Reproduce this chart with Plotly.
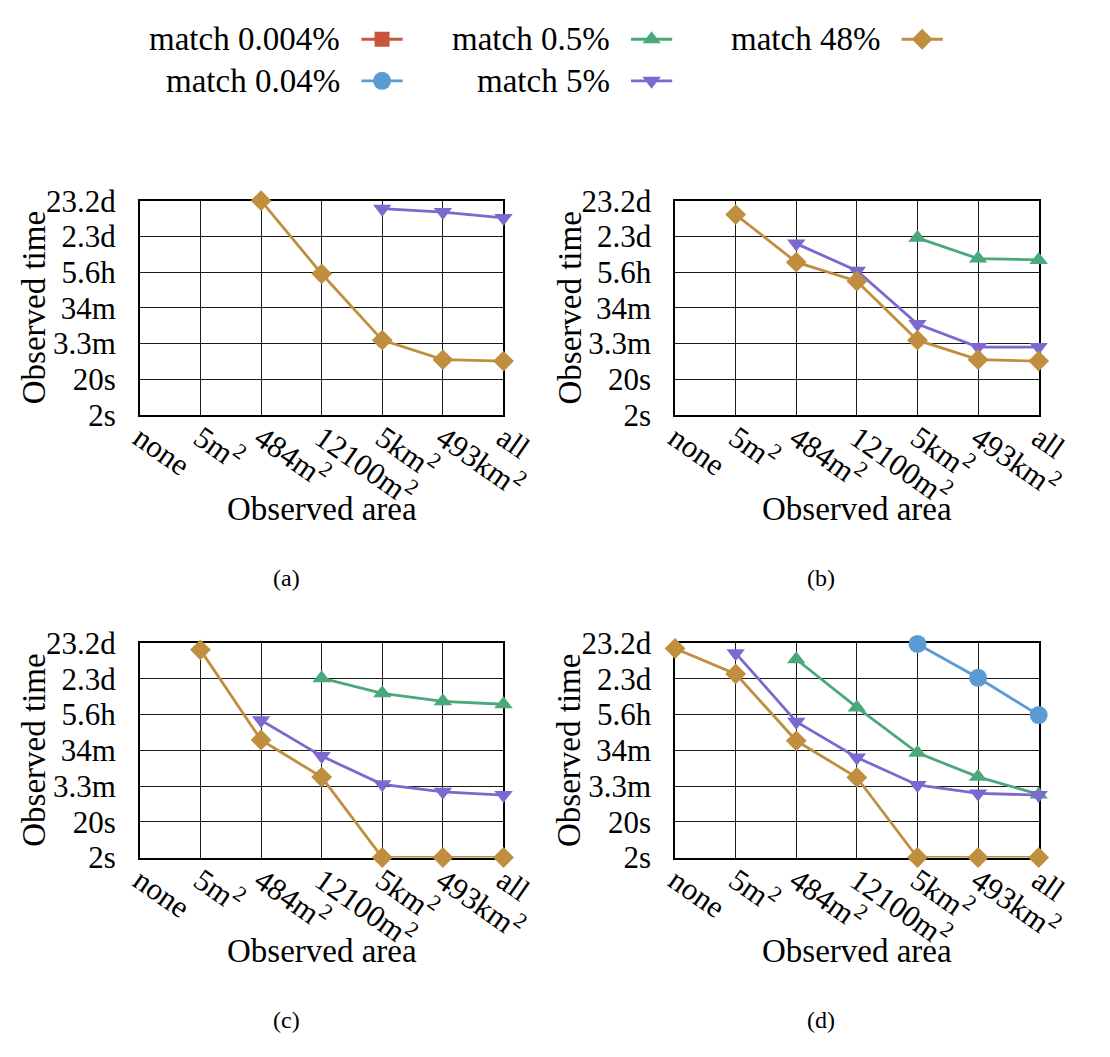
import plotly.graph_objects as go

W, H = 1110, 1057

# ---------------- data ----------------
categories = ["none", "5m2", "484m2", "12100m2", "5km2", "493km2", "all"]
x_tick_labels = ["none", "5m<sup>2</sup>", "484m<sup>2</sup>", "12100m<sup>2</sup>",
                 "5km<sup>2</sup>", "493km<sup>2</sup>", "all"]
y_tick_values = [2, 20, 200, 2000, 20000, 200000, 2000000]   # seconds
y_tick_labels = ["2s", "20s", "3.3m", "34m", "5.6h", "2.3d", "23.2d"]

series_names = ["match 0.004%", "match 0.04%", "match 0.5%", "match 5%", "match 48%"]

# observed time (seconds) per category, None = no point
a_match_5 = [None, None, None, None, 1.2e6, 9.6e5, 6.6e5]
a_match_48 = [None, None, 2.0e6, 1.8e4, 250, 71, 65]

b_match_05 = [None, None, None, None, 1.83e5, 4.8e4, 4.4e4]
b_match_5 = [None, None, 1.26e5, 2.2e4, 710, 160, 160]
b_match_48 = [None, 8.2e5, 3.8e4, 1.12e4, 250, 71, 65]

c_match_05 = [None, None, None, 2.09e5, 7.9e4, 4.7e4, 3.9e4]
c_match_5 = [None, None, 1.39e4, 1.38e3, 224, 138, 112]
c_match_48 = [None, 1.3e6, 3.9e3, 356, 2, 2, 2]

d_match_004 = [None, None, None, None, 1.9e6, 2.15e5, 1.94e4]
d_match_05 = [None, None, 7.1e5, 3.17e4, 1.7e3, 362, 117]
d_match_5 = [None, 1.05e6, 1.26e4, 1.26e3, 215, 124, 112]
d_match_48 = [1.42e6, 2.76e5, 3.7e3, 348, 2, 2, 2]

panel_captions = ["(a)", "(b)", "(c)", "(d)"]

# ---------------- styles ----------------
FONT = "Liberation Serif"
FS = 31      # tick labels
FT = 33      # titles / legend
colors = {
    "match 0.004%": "#C8553D",
    "match 0.04%": "#5B9BD5",
    "match 0.5%": "#4AA87A",
    "match 5%": "#7D68CF",
    "match 48%": "#C08E3F",
}
symbols = {
    "match 0.004%": ("square", 15),
    "match 0.04%": ("circle", 18),
    "match 0.5%": ("triangle-up", 16),
    "match 5%": ("triangle-down", 16),
    "match 48%": ("diamond", 16),
}
LW = 2.8

panels = [
    {"match 5%": a_match_5, "match 48%": a_match_48},
    {"match 0.5%": b_match_05, "match 5%": b_match_5, "match 48%": b_match_48},
    {"match 0.5%": c_match_05, "match 5%": c_match_5, "match 48%": c_match_48},
    {"match 0.04%": d_match_004, "match 0.5%": d_match_05, "match 5%": d_match_5,
     "match 48%": d_match_48},
]

# panel frames in pixels: (left, right, top, bottom)
frames = [
    (132.3, 511.7, 190.0, 411.7),
    (690.7, 1070.0, 190.0, 411.7),
    (132.3, 511.7, 647.6, 869.3),
    (690.7, 1070.0, 647.6, 869.3),
]
caption_x = [285, 843, 285, 843]

fig = go.Figure()
layout = dict(
    width=W, height=H, margin=dict(l=0, r=0, t=0, b=0),
    paper_bgcolor="white", plot_bgcolor="rgba(0,0,0,0)",
    font=dict(family=FONT, size=FS, color="black"),
    showlegend=False,
)
annotations = []

for i, (panel, (l, r, t, b)) in enumerate(zip(panels, frames)):
    n = i + 1
    xa = "xaxis" if n == 1 else f"xaxis{n}"
    ya = "yaxis" if n == 1 else f"yaxis{n}"
    xref = "x" if n == 1 else f"x{n}"
    yref = "y" if n == 1 else f"y{n}"
    layout[xa] = dict(
        domain=[l / W, r / W], anchor=yref, type="category",
        categoryorder="array", categoryarray=categories,
        range=[0, len(categories) - 1],
        tickvals=categories, ticktext=x_tick_labels, tickangle=35,
        showgrid=True, gridcolor="#1a1a1a", gridwidth=1,
        showline=True, mirror=True, linecolor="black", linewidth=1.5,
        ticks="", zeroline=False, tickfont=dict(size=FS),
        ticklabelstandoff=-9, layer="below traces",
    )
    layout[ya] = dict(
        domain=[1 - b / H, 1 - t / H], anchor=xref, type="log",
        range=[0.3010, 6.3011],
        tickvals=y_tick_values, ticktext=y_tick_labels,
        showgrid=True, gridcolor="#1a1a1a", gridwidth=1,
        showline=True, mirror=True, linecolor="black", linewidth=1.5,
        ticks="", zeroline=False, ticklabelstandoff=16, tickfont=dict(size=FS),
        layer="below traces",
    )
    for name in series_names:
        if name not in panel:
            continue
        sym, sz = symbols[name]
        fig.add_trace(go.Scatter(
            x=categories, y=panel[name], mode="lines+markers", name=name,
            xaxis=xref, yaxis=yref, cliponaxis=False, connectgaps=False,
            line=dict(color=colors[name], width=LW),
            marker=dict(symbol=sym, size=sz, color=colors[name]),
            showlegend=False, hoverinfo="skip",
        ))
    # axis titles and captions
    annotations.append(dict(
        text="Observed time", x=(l - 110) / W, y=1 - (t + b) / 2 / H,
        xref="paper", yref="paper", textangle=-90, showarrow=False,
        xanchor="center", yanchor="middle", font=dict(size=FT)))
    annotations.append(dict(
        text="Observed area", x=(l + r) / 2 / W, y=1 - (b + 97) / H,
        xref="paper", yref="paper", showarrow=False,
        xanchor="center", yanchor="middle", font=dict(size=FT)))
    annotations.append(dict(
        text=panel_captions[i], x=caption_x[i] / W, y=1 - (b + 168) / H,
        xref="paper", yref="paper", showarrow=False,
        xanchor="center", yanchor="middle", font=dict(size=24)))

# ---------------- custom legend (text, then key) ----------------
layout["xaxis5"] = dict(domain=[0, 1], range=[0, W], visible=False, anchor="y5")
layout["yaxis5"] = dict(domain=[0, 1], range=[H, 0], visible=False, anchor="x5")
legend_text_right = [343.5, 343.5, 624.7, 624.7, 907.0]
legend_row_y = [23, 66, 23, 66, 23]
for name, tx, ty in zip(series_names, legend_text_right, legend_row_y):
    annotations.append(dict(
        text=name, x=tx / W, y=1 - ty / H, xref="paper", yref="paper",
        showarrow=False, xanchor="right", yanchor="middle", font=dict(size=FT)))
    sym, sz = symbols[name]
    x0, x1 = tx + 20, tx + 63
    fig.add_trace(go.Scatter(
        x=[x0, (x0 + x1) / 2, x1], y=[ty, ty, ty], xaxis="x5", yaxis="y5",
        mode="lines", line=dict(color=colors[name], width=LW),
        showlegend=False, hoverinfo="skip", cliponaxis=False))
    fig.add_trace(go.Scatter(
        x=[(x0 + x1) / 2], y=[ty], xaxis="x5", yaxis="y5", mode="markers",
        marker=dict(symbol=sym, size=sz, color=colors[name]),
        showlegend=False, hoverinfo="skip", cliponaxis=False))

layout["annotations"] = annotations
fig.update_layout(**layout)
fig.write_html("out.html")
